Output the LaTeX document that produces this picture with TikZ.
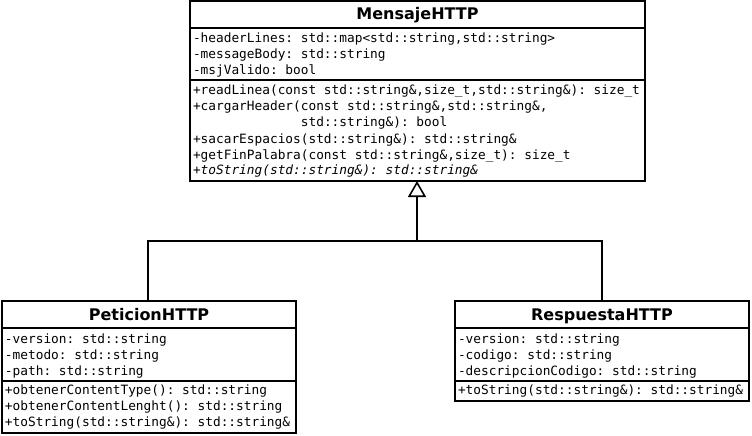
\documentclass[tikz,border=0pt]{standalone}
\usepackage{fontspec}
\setmainfont{DejaVu Sans}
\setsansfont{DejaVu Sans}
\setmonofont{DejaVu Sans Mono}
\usetikzlibrary{arrows.meta}
\newcommand\umlmono{\ttfamily\fontsize{12.8}{16}\selectfont}
\newcommand\umltitle{\sffamily\bfseries\fontsize{16}{18}\selectfont}
\newcommand\memberlist[1]{\begin{tabular}[t]{@{}l@{}}#1\end{tabular}}

\begin{document}
\begin{tikzpicture}[x=1pt, y=-1pt, line width=2pt,
  compartment/.style={draw, rectangle, anchor=north west, inner sep=0pt, outer sep=0pt},
  members/.style={anchor=base west, inner sep=0pt, font=\umlmono},
  classname/.style={anchor=base, inner sep=0pt, font=\umltitle},
  generalization/.style={-{Triangle[open, length=16pt, width=18pt, line width=1.6pt]}}]
\useasboundingbox (0,0) rectangle (752,436);
\fill[white] (0,0) rectangle (752,436);

% MensajeHTTP
\node[compartment, minimum width=455pt, minimum height=27pt] (mTitle) at (190,1) {};
\node[compartment, minimum width=455pt, minimum height=52pt] (mAttr) at (190,28) {};
\node[compartment, minimum width=455pt, minimum height=101pt] (mOps) at (190,80) {};
\node[classname] (mName) at (417.5,20) {MensajeHTTP};
\node[members] (mAttrText) at (192,43) {\memberlist{
  -headerLines: std::map<std::string,std::string>\\
  -messageBody: std::string\\
  -msjValido: bool}};
\node[members] (mOpsText) at (192,95) {\memberlist{
  +readLinea(const std::string\&,size\_t,std::string\&): size\_t\\
  +cargarHeader(const std::string\&,std::string\&,\\
  \phantom{+cargarHeader(}std::string\&): bool\\
  +sacarEspacios(std::string\&): std::string\&\\
  +getFinPalabra(const std::string\&,size\_t): size\_t\\
  {\itshape +toString(std::string\&): std::string\&}}};

% PeticionHTTP
\node[compartment, minimum width=294pt, minimum height=27pt] (pTitle) at (2,301) {};
\node[compartment, minimum width=294pt, minimum height=53pt] (pAttr) at (2,328) {};
\node[compartment, minimum width=294pt, minimum height=52pt] (pOps) at (2,381) {};
\node[classname] (pName) at (149,320) {PeticionHTTP};
\node[members] (pAttrText) at (4,343) {\memberlist{
  -version: std::string\\
  -metodo: std::string\\
  -path: std::string}};
\node[members] (pOpsText) at (4,394) {\memberlist{
  +obtenerContentType(): std::string\\
  +obtenerContentLenght(): std::string\\
  +toString(std::string\&): std::string\&}};

% RespuestaHTTP
\node[compartment, minimum width=294pt, minimum height=27pt] (rTitle) at (455,301) {};
\node[compartment, minimum width=294pt, minimum height=53pt] (rAttr) at (455,328) {};
\node[compartment, minimum width=294pt, minimum height=20pt] (rOps) at (455,381) {};
\node[classname] (rName) at (602,320) {RespuestaHTTP};
\node[members] (rAttrText) at (457,343) {\memberlist{
  -version: std::string\\
  -codigo: std::string\\
  -descripcionCodigo: std::string}};
\node[members] (rOpsText) at (457,394) {\memberlist{
  +toString(std::string\&): std::string\&}};

% inheritance tree
\coordinate (busL) at (148,241);
\coordinate (busM) at (417,241);
\coordinate (busR) at (rTitle.north |- busL);
\draw[generalization] (busM) -- (busM |- mOps.south);
\draw (busL |- pTitle.north) -- (busL) -- (busR) -- (rTitle.north);
\end{tikzpicture}
\end{document}
